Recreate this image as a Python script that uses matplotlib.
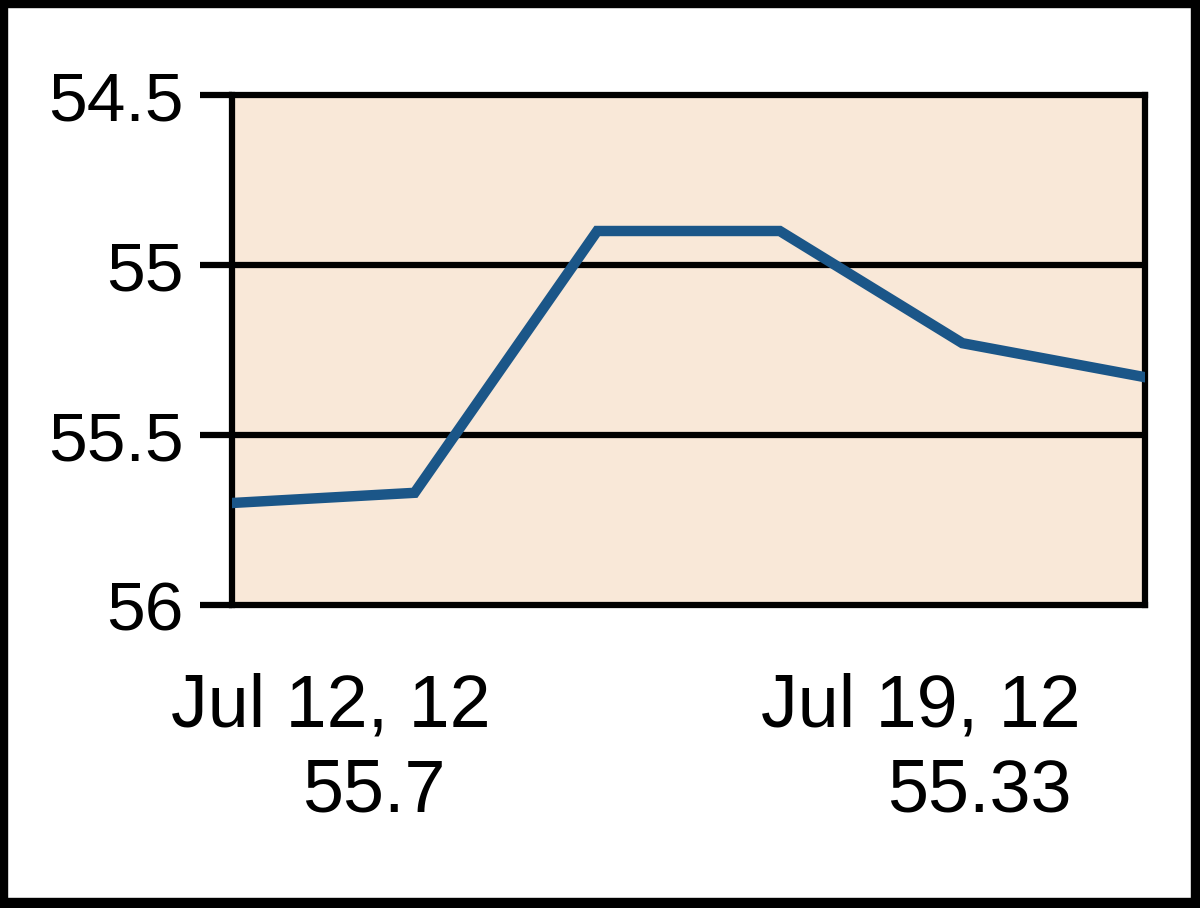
import matplotlib
matplotlib.use("Agg")
import matplotlib.pyplot as plt
from matplotlib.patches import Rectangle

# Data
dates = ["Jul 12, 12", "Jul 13, 12", "Jul 16, 12", "Jul 17, 12", "Jul 18, 12", "Jul 19, 12"]
values = [55.70, 55.67, 54.90, 54.90, 55.23, 55.33]
y_ticks = [54.5, 55.0, 55.5, 56.0]
y_tick_labels = ["54.5", "55", "55.5", "56"]
first_label = ["Jul 12, 12", "55.7"]
last_label = ["Jul 19, 12", "55.33"]

FONT = ["Liberation Sans Narrow", "Liberation Sans", "DejaVu Sans"]
W, H = 1200, 908
fig = plt.figure(figsize=(W / 100, H / 100), dpi=100)
fig.patch.set_facecolor("white")

ax = fig.add_axes([232 / W, 1 - 605 / H, (1145 - 232) / W, (605 - 95) / H])
ax.set_facecolor("#F9E8D8")

x = list(range(len(values)))
ax.plot(x, values, color="#1B5688", lw=7.5, solid_joinstyle="miter", zorder=3)

ax.set_xlim(0, len(values) - 1)
ax.set_ylim(56.0, 54.5)
ax.set_yticks(y_ticks)
ax.set_yticklabels(y_tick_labels, fontfamily=FONT, fontsize=50)
ax.set_xticks([])
for g in y_ticks[1:-1]:
    ax.axhline(g, color="black", lw=4.5, zorder=2)
ax.tick_params(axis="y", length=23, width=4.5, pad=12, color="black", labelcolor="black")
for s in ax.spines.values():
    s.set_linewidth(4.5)
    s.set_color("black")

# Bottom labels
LS = 53
fig.text(331 / W, 1 - 726 / H, first_label[0], ha="center", va="baseline",
         fontfamily=FONT, fontsize=LS, color="black")
fig.text(374 / W, 1 - 811 / H, first_label[1], ha="center", va="baseline",
         fontfamily=FONT, fontsize=LS, color="black")
fig.text(921 / W, 1 - 726 / H, last_label[0], ha="center", va="baseline",
         fontfamily=FONT, fontsize=LS, color="black")
fig.text(979 / W, 1 - 811 / H, last_label[1], ha="center", va="baseline",
         fontfamily=FONT, fontsize=LS, color="black")

# Outer frame
fig.patches.append(Rectangle((0, 0), 7 / W, 1, transform=fig.transFigure, color="black", zorder=10))
fig.patches.append(Rectangle((0, 1 - 7 / H), 1, 7 / H, transform=fig.transFigure, color="black", zorder=10))
fig.patches.append(Rectangle((1 - 9 / W, 0), 9 / W, 1, transform=fig.transFigure, color="black", zorder=10))
fig.patches.append(Rectangle((0, 0), 1, 10 / H, transform=fig.transFigure, color="black", zorder=10))

fig.savefig("out.png", dpi=100, facecolor="white")
